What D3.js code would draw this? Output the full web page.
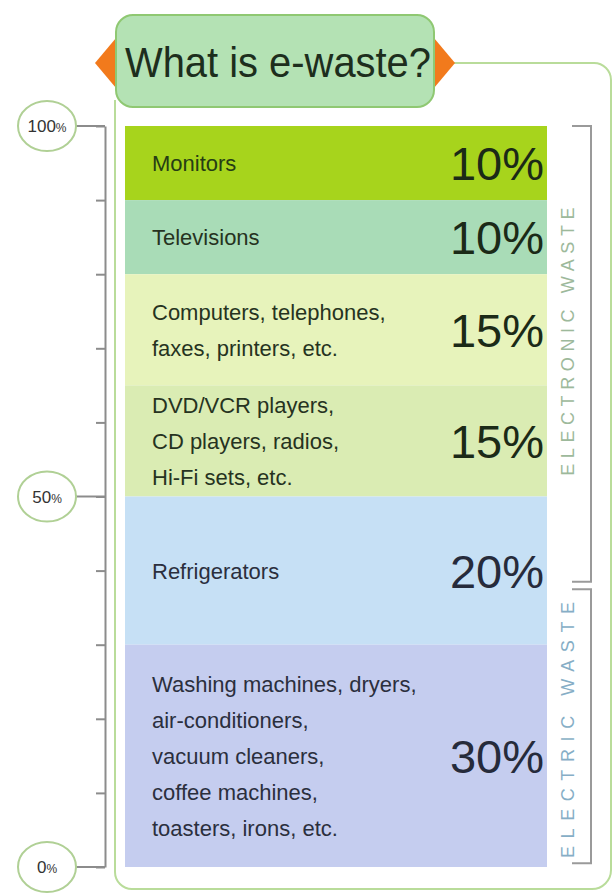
<!DOCTYPE html>
<html>
<head>
<meta charset="utf-8">
<script src="https://cdn.jsdelivr.net/npm/d3@7"></script>
<style>
  html, body { margin: 0; padding: 0; background: #ffffff; }
  svg { display: block; }
</style>
</head>
<body>
<svg id="chart" width="614" height="893"></svg>
<script>
// Share of each appliance group in e-waste, stacked top to bottom (percent)
const categories = [
  ["Monitors"],
  ["Televisions"],
  ["Computers, telephones,", "faxes, printers, etc."],
  ["DVD/VCR players,", "CD players, radios,", "Hi-Fi sets, etc."],
  ["Refrigerators"],
  ["Washing machines, dryers,", "air-conditioners,", "vacuum cleaners,", "coffee machines,", "toasters, irons, etc."]
];
const values = [10, 10, 15, 15, 20, 30];
const bandColors = ["#a7d41c", "#a9dcb7", "#e7f3bb", "#daecb3", "#c6e0f5", "#c5cdef"];

// Left scale
const axisTicks = [0, 10, 20, 30, 40, 50, 60, 70, 80, 90, 100];
const circledTicks = [0, 50, 100];

// Bracketed groups on the right (percent extents, top to bottom)
const groups = [
  { label: "ELECTRONIC WASTE", from: 100, to: 38.5, color: "#9db99b", spacing: 5.6, shift: -15 },
  { label: "ELECTRIC WASTE", from: 37.5, to: 0.5, color: "#86aec6", spacing: 7.6, shift: 0 }
];

const title = "What is e-waste?";

const svg = d3.select("#chart");

const y = d3.scaleLinear().domain([0, 100]).range([867, 126]);
const barX0 = 125, barX1 = 547;

// Stack offsets from the top
let acc = 100;
const bands = values.map((v, i) => {
  const top = acc; acc -= v;
  return { lines: categories[i], value: v, top, bottom: acc, color: bandColors[i] };
});

// Outer frame
const frame = d3.path();
frame.moveTo(452, 63);
frame.lineTo(594, 63);
frame.arcTo(611, 63, 611, 80, 17);
frame.lineTo(611, 870);
frame.arcTo(611, 889, 592, 889, 19);
frame.lineTo(132, 889);
frame.arcTo(115, 889, 115, 872, 17);
frame.lineTo(115, 100);
svg.append("path")
  .attr("d", frame.toString())
  .attr("fill", "none")
  .attr("stroke", "#b9dc9a")
  .attr("stroke-width", 2);

// Title box with orange diamonds at both ends
const tb = { x0: 116, x1: 434, y0: 15, y1: 107 };
const tcy = 63;
[tb.x0, tb.x1].forEach(cx => {
  svg.append("path")
    .attr("d", `M${cx - 21},${tcy} L${cx},${tcy - 25} L${cx + 21},${tcy} L${cx},${tcy + 25} Z`)
    .attr("fill", "#f27a1c");
});
svg.append("rect")
  .attr("x", tb.x0).attr("y", tb.y0)
  .attr("width", tb.x1 - tb.x0).attr("height", tb.y1 - tb.y0)
  .attr("rx", 17).attr("ry", 17)
  .attr("fill", "#b4e2b4")
  .attr("stroke", "#8fc872")
  .attr("stroke-width", 2);
svg.append("text")
  .attr("x", 125).attr("y", 77)
  .attr("font-family", "Liberation Sans, Arial, sans-serif")
  .attr("font-size", 42)
  .attr("fill", "#1d2e1d")
  .attr("textLength", 306)
  .attr("lengthAdjust", "spacingAndGlyphs")
  .text(title);

// Stacked bands
const band = svg.append("g").selectAll("g").data(bands).join("g");
band.append("rect")
  .attr("x", barX0)
  .attr("width", barX1 - barX0)
  .attr("y", d => y(d.top))
  .attr("height", d => y(d.bottom) - y(d.top))
  .attr("fill", d => d.color);

const lineGap = 36;
band.each(function (d, i) {
  const g = d3.select(this);
  const cy = (y(d.top) + y(d.bottom)) / 2;
  const n = d.lines.length;
  const ink = i < 4 ? "#26331f" : "#2b2f3d";
  d.lines.forEach((ln, k) => {
    g.append("text")
      .attr("x", 152)
      .attr("y", cy + (k - (n - 1) / 2) * lineGap + 8)
      .attr("font-family", "Liberation Sans, Arial, sans-serif")
      .attr("font-size", 22)
      .attr("fill", i === 0 ? "#263d14" : ink)
      .text(ln);
  });
  g.append("text")
    .attr("x", 544)
    .attr("y", cy + 17)
    .attr("text-anchor", "end")
    .attr("font-family", "Liberation Sans, Arial, sans-serif")
    .attr("font-size", 47)
    .attr("fill", i < 4 ? "#1b2a17" : "#262b3b")
    .text(d.value + "%");
});

// Left axis
const axis = d3.axisLeft(y)
  .tickValues(axisTicks)
  .tickSize(9)
  .tickSizeOuter(0)
  .tickFormat("");
const axisG = svg.append("g")
  .attr("transform", "translate(105,0)")
  .call(axis);
axisG.select(".domain").attr("stroke", "#8c8c8c").attr("stroke-width", 2);
axisG.selectAll(".tick line").attr("stroke", "#8c8c8c").attr("stroke-width", 2);

// Circled reference values
const cx = 47;
const mark = svg.append("g").selectAll("g").data(circledTicks).join("g")
  .attr("transform", d => `translate(${cx},${y(d)})`);
mark.append("line")
  .attr("x1", 28).attr("x2", 58)
  .attr("stroke", "#8c8c8c").attr("stroke-width", 2);
mark.append("ellipse")
  .attr("rx", 29).attr("ry", 25)
  .attr("fill", "#ffffff")
  .attr("stroke", "#b0d095")
  .attr("stroke-width", 2);
const mt = mark.append("text")
  .attr("text-anchor", "middle")
  .attr("y", 6)
  .attr("font-family", "Liberation Sans, Arial, sans-serif")
  .attr("fill", "#333333");
mt.append("tspan").attr("font-size", 17).text(d => d);
mt.append("tspan").attr("font-size", 12).text("%");

// Right brackets with vertical labels
const gr = svg.append("g").selectAll("g").data(groups).join("g");
gr.append("path")
  .attr("d", d => `M572,${y(d.from)} H591 V${y(d.to)} H572`)
  .attr("fill", "none")
  .attr("stroke", "#9a9a9a")
  .attr("stroke-width", 2);
gr.append("text")
  .attr("transform", d => {
    const mid = (y(d.from) + y(d.to)) / 2 + d.shift;
    return `translate(574,${mid}) rotate(-90)`;
  })
  .attr("text-anchor", "middle")
  .attr("font-family", "Liberation Sans, Arial, sans-serif")
  .attr("font-size", 18)
  .attr("letter-spacing", d => d.spacing)
  .attr("fill", d => d.color)
  .text(d => d.label);
</script>
</body>
</html>
